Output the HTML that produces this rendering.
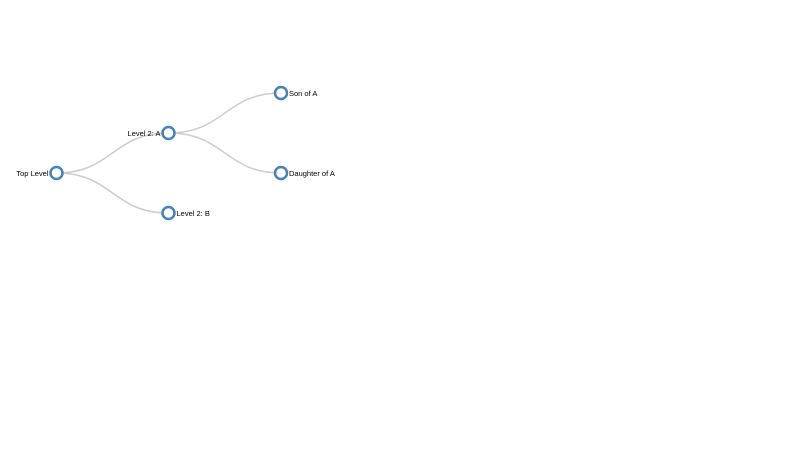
<!DOCTYPE html>
<html><head><style>html,body{margin:0;padding:0;background:#fff;width:800px;height:450px;overflow:hidden}</style></head>
<body>
<svg width="800" height="450" xmlns="http://www.w3.org/2000/svg" style="display:block">
<g fill="none" stroke="#ccc" stroke-width="1.5">
<path d="M56.5,173 C112.5,173 112.5,133 168.5,133"/>
<path d="M56.5,173 C112.5,173 112.5,213 168.5,213"/>
<path d="M168.5,133 C225,133 225,93 281,93"/>
<path d="M168.5,133 C225,133 225,173 281,173"/>
</g>
<g fill="#fff" stroke="steelblue" stroke-width="2.5">
<circle cx="56.5" cy="173" r="6"/>
<circle cx="168.5" cy="133" r="6"/>
<circle cx="168.5" cy="213" r="6"/>
<circle cx="281" cy="93" r="6"/>
<circle cx="281" cy="173" r="6"/>
</g>
<g font-family="Liberation Sans, sans-serif" font-size="7.5" fill="#000">
<text x="48.5" y="175.8" text-anchor="end">Top Level</text>
<text x="160.5" y="135.8" text-anchor="end">Level 2: A</text>
<text x="176.5" y="215.8">Level 2: B</text>
<text x="289" y="95.8">Son of A</text>
<text x="289" y="175.8">Daughter of A</text>
</g>
</svg>
</body></html>
